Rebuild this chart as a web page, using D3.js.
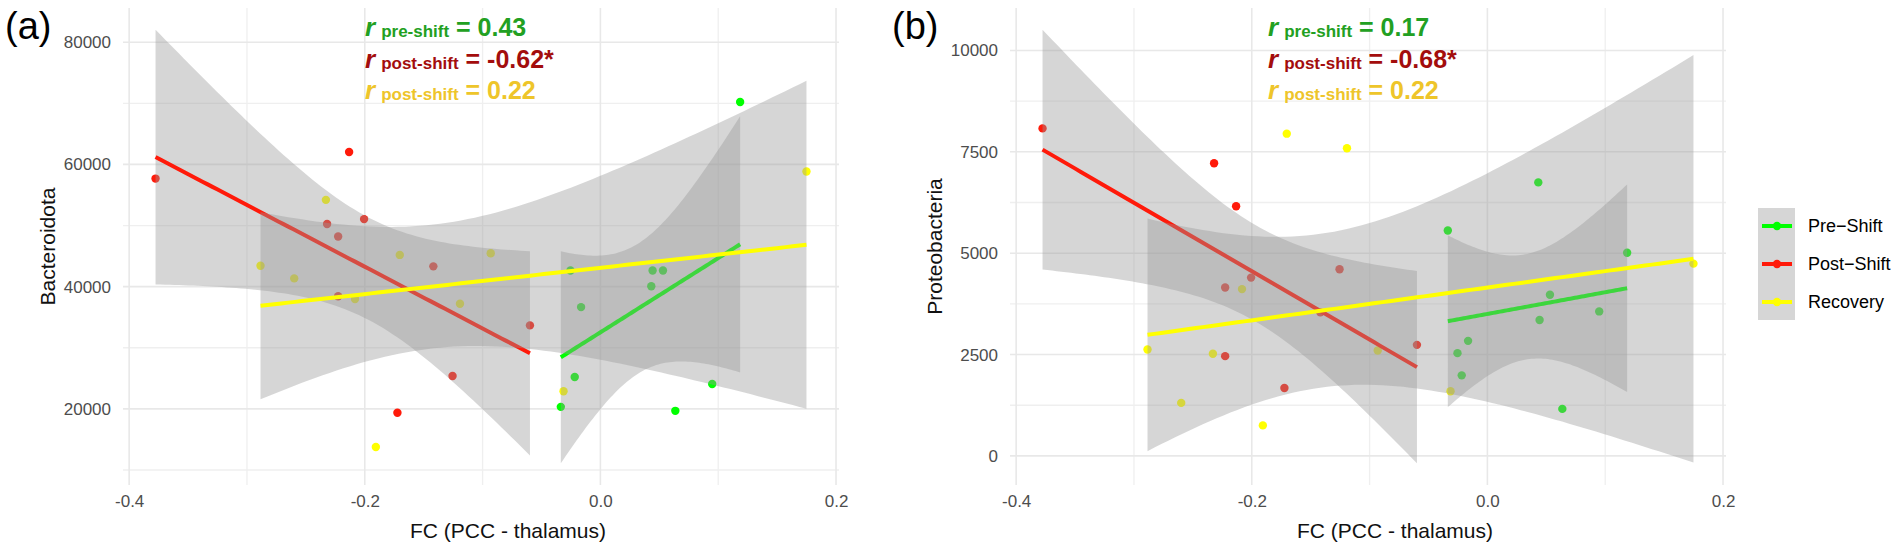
<!DOCTYPE html>
<html>
<head>
<meta charset="utf-8">
<script src="https://cdn.jsdelivr.net/npm/d3@7"></script>
<style>
  body { margin: 0; background: #fff; }
  text { font-family: "Liberation Sans", Arial, Helvetica, sans-serif; }
</style>
</head>
<body>
<svg id="chart" width="1902" height="550"></svg>
<script>
(function(){
// groups, in legend order
var groups = ["Pre\u2212Shift", "Post\u2212Shift", "Recovery"];
var colors = ["#00ff00", "#ff1a0a", "#ffff00"];
var textColors = ["#22a022", "#a30d0d", "#eec52a"];

// FC (PCC - thalamus) per subject, one array per group
var preShiftFC  = [-0.0336, -0.0254, -0.0218, -0.0164, 0.0432, 0.0443, 0.0531, 0.0636, 0.0949, 0.1186];
var postShiftFC = [-0.3776, -0.2320, -0.2226, -0.2226, -0.2133, -0.2006, -0.1723, -0.1418, -0.1255, -0.0598];
var recoveryFC  = [-0.2885, -0.2599, -0.2330, -0.2083, -0.1906, -0.1703, -0.1192, -0.0931, -0.0313, 0.1749];

// (a) Bacteroidota
var preShiftBact  = [20330, 42630, 25220, 36650, 40070, 42630, 42630, 19680, 24080, 70210];
var postShiftBact = [57680, 50240, 48210, 38420, 62040, 51050, 19370, 43320, 25370, 33660];
var recoveryBact  = [43430, 41350, 54200, 37990, 13760, 45190, 37200, 45460, 22890, 58840];

// (b) Proteobacteria
var preShiftProteo  = [5561, 2535, 1987, 2838, 6746, 3353, 3974, 1160, 3564, 5012];
var postShiftProteo = [8078, 7219, 4153, 2461, 6157, 4398, 1676, 3540, 4604, 2739];
var recoveryProteo  = [2625, 1308, 2519, 4114, 753, 7948, 7587, 2600, 1594, 4742];

var xTicks = [-0.4, -0.2, 0, 0.2];
var xMinor = [-0.3, -0.1, 0.1];
var bactTicks = [20000, 40000, 60000, 80000];
var bactMinor = [10000, 30000, 50000, 70000];
var proteoTicks = [0, 2500, 5000, 7500, 10000];
var proteoMinor = [1250, 3750, 6250, 8750];

var rSubs = ["pre-shift", "post-shift", "post-shift"];
var rBact = ["0.43", "-0.62*", "0.22"];
var rProteo = ["0.17", "-0.68*", "0.22"];

var svg = d3.select("#chart");
var top = 8, bottom = 485, panelW = 716;

// lm fit with 95% CI, like geom_smooth(method = "lm")
function fitLm(xs, ys){
  var n = xs.length, mx = d3.mean(xs), my = d3.mean(ys);
  var sxx = 0, sxy = 0, sse = 0;
  for(var i=0;i<n;i++){ sxx += (xs[i]-mx)*(xs[i]-mx); sxy += (xs[i]-mx)*(ys[i]-my); }
  var b = sxy/sxx, a = my - b*mx;
  for(var i=0;i<n;i++){ var e = ys[i]-a-b*xs[i]; sse += e*e; }
  var s = Math.sqrt(sse/(n-2));
  var t = 2.306004; // qt(0.975, 8)
  var lo = d3.min(xs), hi = d3.max(xs);
  return d3.range(80).map(function(k){
    var x = lo + k*(hi-lo)/79;
    var f = a + b*x;
    var se = s*Math.sqrt(1/n + (x-mx)*(x-mx)/sxx);
    return {x:x, y:f, lo:f-t*se, hi:f+t*se};
  });
}

function drawPanel(left, tag, yTitle, fcs, vals, ticks, minor, rVals){
  var g = svg.append("g");
  var fits = fcs.map(function(fc,i){ return fitLm(fc, vals[i]); });
  var allX = d3.merge(fcs);
  var allY = d3.merge(vals.concat(fits.map(function(f){ return d3.merge(f.map(function(p){ return [p.lo,p.hi]; })); })));
  var xr = d3.extent(allX), yr = d3.extent(allY);
  var xe = (xr[1]-xr[0])*0.05, ye = (yr[1]-yr[0])*0.05;
  var x = d3.scaleLinear().domain([xr[0]-xe, xr[1]+xe]).range([left, left+panelW]);
  var y = d3.scaleLinear().domain([yr[0]-ye, yr[1]+ye]).range([bottom, top]);

  // grid
  g.selectAll(".ym").data(minor).enter().append("line")
    .attr("x1", left).attr("x2", left+panelW).attr("y1", y).attr("y2", y)
    .attr("stroke", "#efefef").attr("stroke-width", 1.3);
  g.selectAll(".xm").data(xMinor).enter().append("line")
    .attr("y1", top).attr("y2", bottom).attr("x1", x).attr("x2", x)
    .attr("stroke", "#efefef").attr("stroke-width", 1.3);
  g.selectAll(".yg").data(ticks).enter().append("line")
    .attr("x1", left).attr("x2", left+panelW).attr("y1", y).attr("y2", y)
    .attr("stroke", "#e8e8e8").attr("stroke-width", 1.6);
  g.selectAll(".xg").data(xTicks).enter().append("line")
    .attr("y1", top).attr("y2", bottom).attr("x1", x).attr("x2", x)
    .attr("stroke", "#e8e8e8").attr("stroke-width", 1.6);

  // axes (labels only, theme_minimal)
  var ya = g.append("g").attr("transform", "translate(" + left + ",0)")
    .call(d3.axisLeft(y).tickValues(ticks).tickSize(0).tickPadding(12).tickFormat(d3.format("d")));
  var xa = g.append("g").attr("transform", "translate(0," + bottom + ")")
    .call(d3.axisBottom(x).tickValues(xTicks).tickSize(0).tickPadding(10).tickFormat(function(d){ return d3.format(".1f")(d).replace("\u2212","-"); }));
  [ya, xa].forEach(function(a){
    a.select(".domain").remove();
    a.selectAll("text").attr("font-size", 17).attr("fill", "#4d4d4d")
      .style("font-family", "'Liberation Sans', Arial, Helvetica, sans-serif");
  });

  // points
  fcs.forEach(function(fc,i){
    g.selectAll(".pt"+i).data(fc).enter().append("circle")
      .attr("cx", function(d){ return x(d); })
      .attr("cy", function(d,j){ return y(vals[i][j]); })
      .attr("r", 4.2).attr("fill", colors[i]);
  });

  // smooths: ribbon then line, per group
  var area = d3.area().x(function(d){ return x(d.x); }).y0(function(d){ return y(d.lo); }).y1(function(d){ return y(d.hi); });
  var line = d3.line().x(function(d){ return x(d.x); }).y(function(d){ return y(d.y); });
  fits.forEach(function(f,i){
    g.append("path").attr("d", area(f)).attr("fill", "#999999").attr("fill-opacity", 0.4);
    g.append("path").attr("d", line(f)).attr("fill", "none").attr("stroke", colors[i]).attr("stroke-width", 4);
  });

  // r annotations
  var ax = left + (tag === "(a)" ? 242 : 258);
  rVals.forEach(function(v,i){
    var t = g.append("text").attr("x", ax).attr("y", 36 + i*31.5)
      .attr("fill", textColors[i]).attr("font-weight", "bold");
    t.append("tspan").attr("font-style", "italic").attr("font-size", 26).text("r");
    t.append("tspan").attr("font-size", 17).attr("dx", 6).attr("dy", 1).text(rSubs[i]);
    t.append("tspan").attr("font-size", 25).attr("dy", -1).text(" = " + v);
  });

  // titles
  g.append("text").attr("x", left + 385).attr("y", 538).attr("text-anchor", "middle")
    .attr("font-size", 21).attr("fill", "#111").text("FC (PCC - thalamus)");
  g.append("text").attr("transform", "translate(" + (left-68) + "," + ((top+bottom)/2) + ") rotate(-90)")
    .attr("text-anchor", "middle").attr("font-size", 21).attr("fill", "#111").text(yTitle);
  g.append("text").attr("x", left - 118 + (tag === "(b)" ? 0 : 0)).attr("y", 39)
    .attr("font-size", 38).attr("fill", "#000").text(tag);
}

drawPanel(123, "(a)", "Bacteroidota",
  [preShiftFC, postShiftFC, recoveryFC],
  [preShiftBact, postShiftBact, recoveryBact],
  bactTicks, bactMinor, rBact);

drawPanel(1010, "(b)", "Proteobacteria",
  [preShiftFC, postShiftFC, recoveryFC],
  [preShiftProteo, postShiftProteo, recoveryProteo],
  proteoTicks, proteoMinor, rProteo);

// legend
var leg = svg.append("g").attr("transform", "translate(1758,208)");
leg.append("rect").attr("width", 37).attr("height", 112).attr("fill", "#d6d6d6");
groups.forEach(function(name,i){
  var yy = 18 + i*38;
  leg.append("line").attr("x1", 4).attr("x2", 34).attr("y1", yy).attr("y2", yy)
    .attr("stroke", colors[i]).attr("stroke-width", 4);
  leg.append("circle").attr("cx", 19).attr("cy", yy).attr("r", 4.2).attr("fill", colors[i]);
  leg.append("text").attr("x", 50).attr("y", yy).attr("dy", "0.36em")
    .attr("font-size", 18).attr("fill", "#000").text(name);
});
})();
</script>
</body>
</html>
